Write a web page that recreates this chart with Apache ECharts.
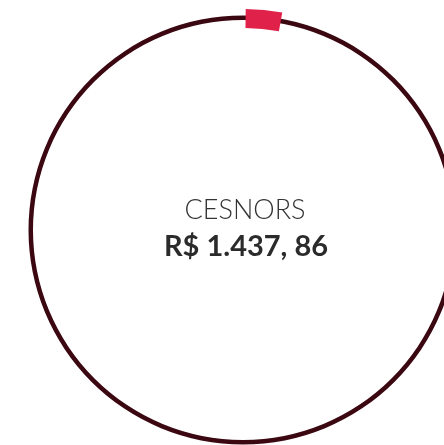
<!DOCTYPE html>
<html>
<head>
<meta charset="utf-8">
<script src="https://cdn.jsdelivr.net/npm/echarts@6/dist/echarts.min.js"></script>
<style>
  html, body { margin: 0; padding: 0; background: #fff; }
  #chart { width: 444px; height: 445px; }
</style>
</head>
<body>
<div id="chart"></div>
<script>
// dados
const titulo = 'CESNORS'
const valor = 'R$ 1.437, 86'
const progresso = [2.65, 97.35] // parte destacada / resto

const myChart = echarts.init(document.getElementById('chart'))
const option = {
  animation: false,
  series: [
    {
      // anel de fundo
      type: 'pie',
      silent: true,
      center: [243, 230],
      radius: [210, 214.5],
      label: { show: false },
      labelLine: { show: false },
      data: [{ value: 1, itemStyle: { color: '#3b0710' } }]
    },
    {
      // segmento vermelho
      type: 'pie',
      silent: true,
      center: [243, 230],
      radius: [202, 221],
      startAngle: 89.3,
      clockwise: true,
      label: { show: false },
      labelLine: { show: false },
      data: [
        { value: progresso[0], itemStyle: { color: '#e0224a' } },
        { value: progresso[1], itemStyle: { color: 'transparent' } }
      ]
    }
  ],
  graphic: [
    {
      type: 'text',
      x: 245,
      y: 210,
      style: {
        text: titulo,
        fill: '#333',
        font: '300 27px Lato',
        textAlign: 'center',
        textVerticalAlign: 'middle'
      }
    },
    {
      type: 'text',
      x: 246,
      y: 247,
      style: {
        text: valor,
        fill: '#2b2b2b',
        font: 'bold 29px Lato',
        textAlign: 'center',
        textVerticalAlign: 'middle'
      }
    }
  ]
}
myChart.setOption(option)
</script>
</body>
</html>
